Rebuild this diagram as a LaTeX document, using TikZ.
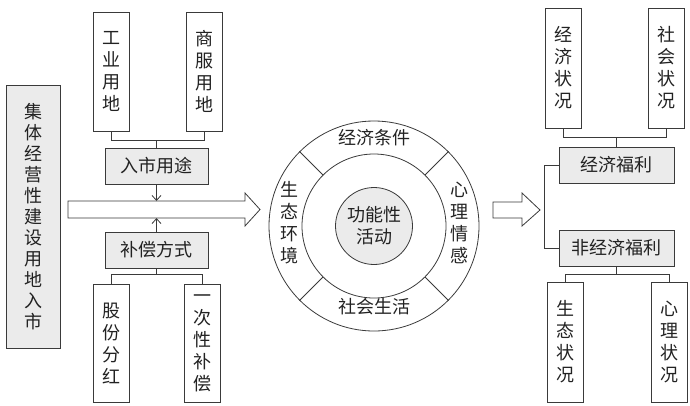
\documentclass[tikz,border=0pt]{standalone}
\usepackage{fontspec}
\newfontfamily\cjk{Noto Sans CJK SC}
\usepackage{xcolor}
\usepackage{tikz}
\usetikzlibrary{arrows.meta, positioning, calc}
\definecolor{kline}{HTML}{3A3A3A}
\definecolor{kfill}{HTML}{EBEBEB}
\definecolor{ktext}{HTML}{222222}

\begin{document}
\begin{tikzpicture}[x=1pt, y=-1pt, line width=0.8pt, draw=kline,
  every node/.style={font=\cjk\fontsize{18}{22}\selectfont, text=ktext, align=center, inner sep=0pt},
  tallbox/.style={draw=kline, fill=white, minimum width=36, minimum height=119},
  widebox/.style={draw=kline, fill=kfill, minimum width=103, minimum height=36},
  barb/.style={-{Straight Barb[length=5pt, width=9pt]}}]
\useasboundingbox (0,0) rectangle (690,405);
\node[tallbox, fill=kfill, minimum width=54, minimum height=263, font=\cjk\fontsize{18}{21}\selectfont]
  (land) at (33,216.5) {集\\体\\经\\营\\性\\建\\设\\用\\地\\入\\市};
\node[tallbox] (gongye) at (111.5,71.5) {工\\业\\用\\地};
\node[tallbox] (shangfu) at (204,71.5) {商\\服\\用\\地};
\node[widebox] (rushi) at (156.5,166) {入市用途};
\node[widebox] (buchang) at (156.5,250) {补偿方式};
\node[tallbox, minimum height=118] (gufen) at (111.5,343) {股\\份\\分\\红};
\node[tallbox, minimum height=118] (yici) at (202,343) {一\\次\\性\\补\\偿};
\draw (gongye.south) -- ++(0,9) -| (shangfu.south);
\draw (rushi.north) -- ++(0,-8);
\draw (gufen.north) -- ++(0,-9) -| (yici.north);
\draw (buchang.south) -- ++(0,7);
\draw[fill=white] (68,201) -- (245,201) -- (245,193) -- (260,209.5) -- (245,226) -- (245,218) -- (68,218) -- cycle;
\coordinate (inlettop) at (156.5,201);
\coordinate (inletbot) at (156.5,218);
\draw[barb] (rushi.south) -- (inlettop);
\draw[barb] (buchang.north) -- (inletbot);

\node[circle, draw=kline, minimum size=210] (ring) at (374,226) {};
\node[circle, draw=kline, minimum size=144] (inner) at (374,226) {};
\node[circle, draw=kline, fill=kfill, minimum size=77] (core) at (374,226) {功能性\\活动};
\foreach \a in {45,135,225,315}
  \draw (inner.\a) -- (ring.\a);
\node (jjtj) at (374,138) {经济条件};
\node (shsh) at (374,307) {社会生活};
\node (sthj) at (289,223) {生\\态\\环\\境};
\node (xlqg) at (459,223) {心\\理\\情\\感};

\draw[fill=white] (493,202) -- (522,202) -- (522,193) -- (540,210) -- (522,226) -- (522,218) -- (493,218) -- cycle;
\node[widebox, minimum width=115] (jjfl) at (616.5,165) {经济福利};
\node[widebox, minimum width=115] (fjjfl) at (616.5,248) {非经济福利};
\node[tallbox, minimum height=120] (jjzk) at (563.5,68) {经\\济\\状\\况};
\node[tallbox, minimum height=120] (shzk) at (666,68) {社\\会\\状\\况};
\node[tallbox, minimum height=120] (stzk) at (565.5,342) {生\\态\\状\\况};
\node[tallbox, minimum height=120] (xlzk) at (669,342) {心\\理\\状\\况};
\draw (jjzk.south) -- ++(0,9) -| (shzk.south);
\draw (jjfl.north) -- ++(0,-10);
\draw (stzk.north) -- ++(0,-7) -| (xlzk.north);
\draw (fjjfl.south) -- ++(0,9);
\draw (jjfl.west) -- ++(-14,0) |- (fjjfl.west);
\end{tikzpicture}
\end{document}
